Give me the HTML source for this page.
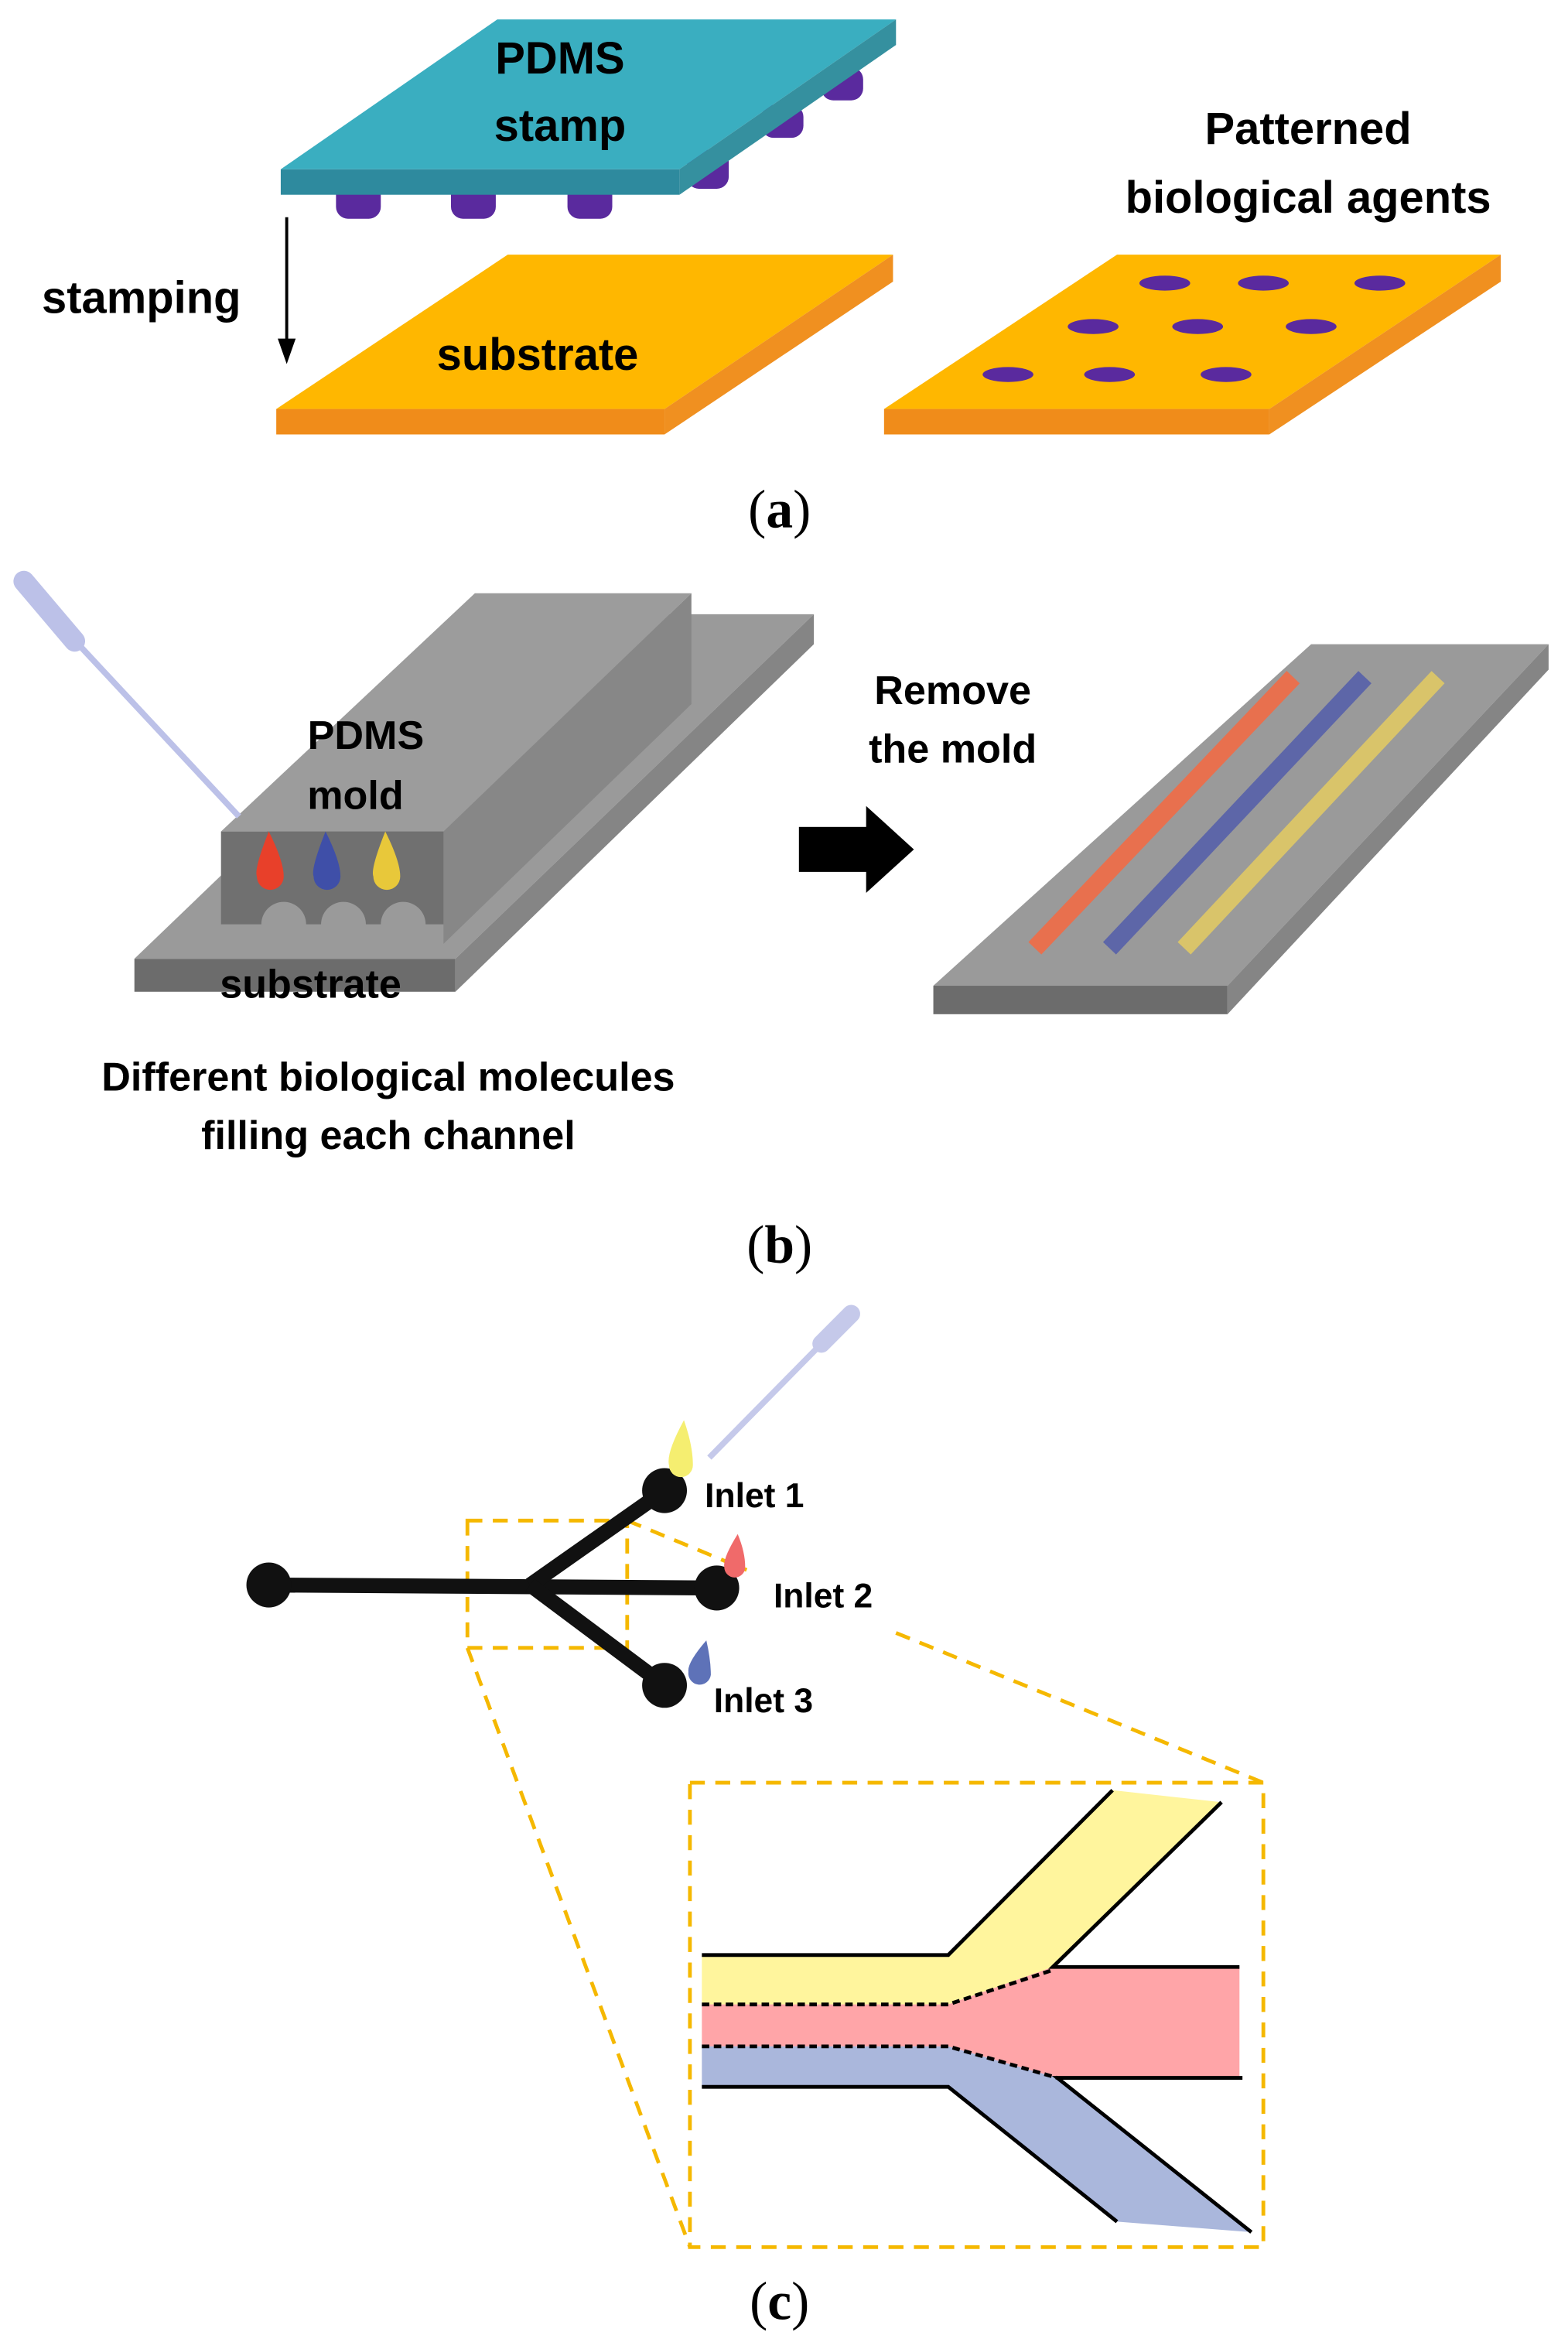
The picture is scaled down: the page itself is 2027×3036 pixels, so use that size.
<!DOCTYPE html>
<html><head><meta charset="utf-8"><style>
html,body{margin:0;padding:0;background:#fff;}
svg{display:block;}
.t{font-family:"Liberation Sans",sans-serif;font-weight:bold;fill:#000;}
.s{font-family:"Liberation Serif",serif;fill:#000;}
</style></head><body>
<svg width="2027" height="3036" viewBox="0 0 1050 1568" preserveAspectRatio="none" xmlns="http://www.w3.org/2000/svg">
<!-- (a) -->
<g fill="#5a2a9e">
<rect x="225" y="122" width="30" height="24" rx="8"/>
<rect x="302" y="122" width="30" height="24" rx="8"/>
<rect x="380" y="122" width="30" height="24" rx="8"/>
<rect x="460" y="100" width="28" height="26" rx="8"/>
<rect x="510" y="70" width="28" height="22" rx="8"/>
<rect x="550" y="45" width="28" height="22" rx="8"/>
</g>
<polygon points="188,113 455,113 600,13 333,13" fill="#3aaec0"/>
<rect x="188" y="113" width="267" height="17" fill="#2e8a9e"/>
<polygon points="455,113 600,13 600,30 455,130" fill="#35909f"/>
<text class="t" x="375" y="49" font-size="30" text-anchor="middle">PDMS</text>
<text class="t" x="375" y="94" font-size="30" text-anchor="middle">stamp</text>
<line x1="192" y1="145" x2="192" y2="228" stroke="#000" stroke-width="2"/>
<polygon points="186,226 198,226 192,243" fill="#000"/>
<text class="t" x="28" y="209" font-size="30">stamping</text>
<polygon points="185,273 445,273 598,170 340,170" fill="#ffb700"/>
<rect x="185" y="273" width="260" height="17" fill="#f08c1a"/>
<polygon points="445,273 598,170 598,188 445,290" fill="#f09020"/>
<text class="t" x="360" y="247" font-size="30" text-anchor="middle">substrate</text>
<polygon points="592,273 850,273 1005,170 748,170" fill="#ffb700"/>
<rect x="592" y="273" width="258" height="17" fill="#f08c1a"/>
<polygon points="850,273 1005,170 1005,188 850,290" fill="#f09020"/>
<g fill="#5a2a9e">
<ellipse cx="780" cy="189" rx="17" ry="5"/><ellipse cx="846" cy="189" rx="17" ry="5"/><ellipse cx="924" cy="189" rx="17" ry="5"/>
<ellipse cx="732" cy="218" rx="17" ry="5"/><ellipse cx="802" cy="218" rx="17" ry="5"/><ellipse cx="878" cy="218" rx="17" ry="5"/>
<ellipse cx="675" cy="250" rx="17" ry="5"/><ellipse cx="743" cy="250" rx="17" ry="5"/><ellipse cx="821" cy="250" rx="17" ry="5"/>
</g>
<text class="t" x="876" y="96" font-size="30" text-anchor="middle">Patterned</text>
<text class="t" x="876" y="142" font-size="30" text-anchor="middle">biological agents</text>
<text class="s" x="522" y="352" font-size="36" text-anchor="middle">(<tspan font-weight="bold">a</tspan>)</text>
<!-- (b) -->
<polygon points="90,640 305,640 545,410 330,410" fill="#9a9a9a"/>
<rect x="90" y="640" width="215" height="22" fill="#6c6c6c"/>
<polygon points="305,640 545,410 545,430 305,662" fill="#858585"/>
<polygon points="148,555 297,555 463,396 318,396" fill="#9c9c9c"/>
<polygon points="297,555 463,396 463,470 297,630" fill="#878787"/>
<path d="M148,555 H297 V617 H285 A15,15 0 0 0 255,617 H245 A15,15 0 0 0 215,617 H205 A15,15 0 0 0 175,617 H148 Z" fill="#707070"/>
<line x1="15" y1="390" x2="160" y2="545" stroke="#bcc1e8" stroke-width="4"/>
<line x1="16" y1="388" x2="50" y2="428" stroke="#bcc1e8" stroke-width="14" stroke-linecap="round"/>
<path d="M180,555 Q170,580 172,585 A9,9 0 0 0 190,585 Q190,575 180,555Z" fill="#e8402a"/>
<path d="M218,555 Q208,580 210,585 A9,9 0 0 0 228,585 Q228,575 218,555Z" fill="#3f4fa8"/>
<path d="M258,555 Q248,580 250,585 A9,9 0 0 0 268,585 Q268,575 258,555Z" fill="#e8c83a"/>
<text class="t" x="245" y="500" font-size="27" text-anchor="middle">PDMS</text>
<text class="t" x="238" y="540" font-size="27" text-anchor="middle">mold</text>
<text class="t" x="208" y="666" font-size="27" text-anchor="middle">substrate</text>
<text class="t" x="260" y="728" font-size="27" text-anchor="middle">Different biological molecules</text>
<text class="t" x="260" y="767" font-size="27" text-anchor="middle">filling each channel</text>
<rect x="535" y="552" width="46" height="30" fill="#000"/>
<polygon points="580,538 612,567 580,596" fill="#000"/>
<text class="t" x="638" y="470" font-size="27" text-anchor="middle">Remove</text>
<text class="t" x="638" y="509" font-size="27" text-anchor="middle">the mold</text>
<polygon points="625,658 822,658 1037,430 878,430" fill="#9a9a9a"/>
<rect x="625" y="658" width="197" height="19" fill="#6c6c6c"/>
<polygon points="822,658 1037,430 1037,447 822,677" fill="#858585"/>
<line x1="693" y1="633" x2="866" y2="452" stroke="#e8704e" stroke-width="12"/>
<line x1="743" y1="633" x2="914" y2="452" stroke="#5d66a8" stroke-width="12"/>
<line x1="793" y1="633" x2="963" y2="452" stroke="#d9c46a" stroke-width="12"/>
<text class="s" x="522" y="843" font-size="36" text-anchor="middle">(<tspan font-weight="bold">b</tspan>)</text>
<!-- (c) -->
<g stroke="#f5b800" stroke-width="2.5" stroke-dasharray="10,7" fill="none">
<rect x="313" y="1015" width="107" height="85"/>
<line x1="313" y1="1100" x2="462" y2="1500"/>
<line x1="420" y1="1015" x2="500" y2="1048"/>
<line x1="600" y1="1090" x2="846" y2="1190"/>
<rect x="462" y="1190" width="384" height="310"/>
</g>
<g stroke="#111" stroke-width="10" fill="none">
<line x1="180" y1="1058" x2="480" y2="1060"/>
<line x1="355" y1="1058" x2="445" y2="995"/>
<line x1="355" y1="1058" x2="445" y2="1125"/>
</g>
<g fill="#111">
<circle cx="180" cy="1058" r="15"/><circle cx="480" cy="1060" r="15"/>
<circle cx="445" cy="995" r="15"/><circle cx="445" cy="1125" r="15"/>
</g>
<line x1="475" y1="973" x2="552" y2="895" stroke="#c5c9ea" stroke-width="4"/>
<line x1="550" y1="897" x2="570" y2="877" stroke="#c5c9ea" stroke-width="12" stroke-linecap="round"/>
<path d="M458,948 Q446,970 448,978 A8,8 0 0 0 464,978 Q464,965 458,948Z" fill="#f5ee70"/>
<path d="M494,1024 Q484,1040 485,1046 A7,7 0 0 0 499,1046 Q499,1036 494,1024Z" fill="#f06a6a"/>
<path d="M473,1095 Q460,1110 461,1116 A7,7 0 0 0 476,1118 Q476,1108 473,1095Z" fill="#5e72b8"/>
<text class="t" x="472" y="1006" font-size="23">Inlet 1</text>
<text class="t" x="518" y="1073" font-size="23">Inlet 2</text>
<text class="t" x="478" y="1143" font-size="23">Inlet 3</text>
<polygon points="470,1305 635,1305 745,1195 818,1203 705,1313 635,1338 470,1338" fill="#fff59d"/>
<polygon points="470,1338 635,1338 705,1313 830,1313 830,1387 708,1387 635,1366 470,1366" fill="#ffa5a8"/>
<polygon points="470,1366 635,1366 708,1387 838,1490 748,1483 635,1393 470,1393" fill="#aab7dc"/>
<g stroke="#000" stroke-width="2.5" fill="none">
<polyline points="470,1305 635,1305 745,1195"/>
<polyline points="818,1203 705,1313 830,1313"/>
<polyline points="470,1393 635,1393 748,1483"/>
<polyline points="838,1490 708,1387 832,1387"/>
</g>
<g stroke="#000" stroke-width="2.5" stroke-dasharray="5,3" fill="none">
<polyline points="470,1338 635,1338 705,1315"/>
<polyline points="470,1366 635,1366 708,1387"/>
</g>
<text class="s" x="522" y="1548" font-size="36" text-anchor="middle">(<tspan font-weight="bold">c</tspan>)</text>
</svg>
</body></html>
